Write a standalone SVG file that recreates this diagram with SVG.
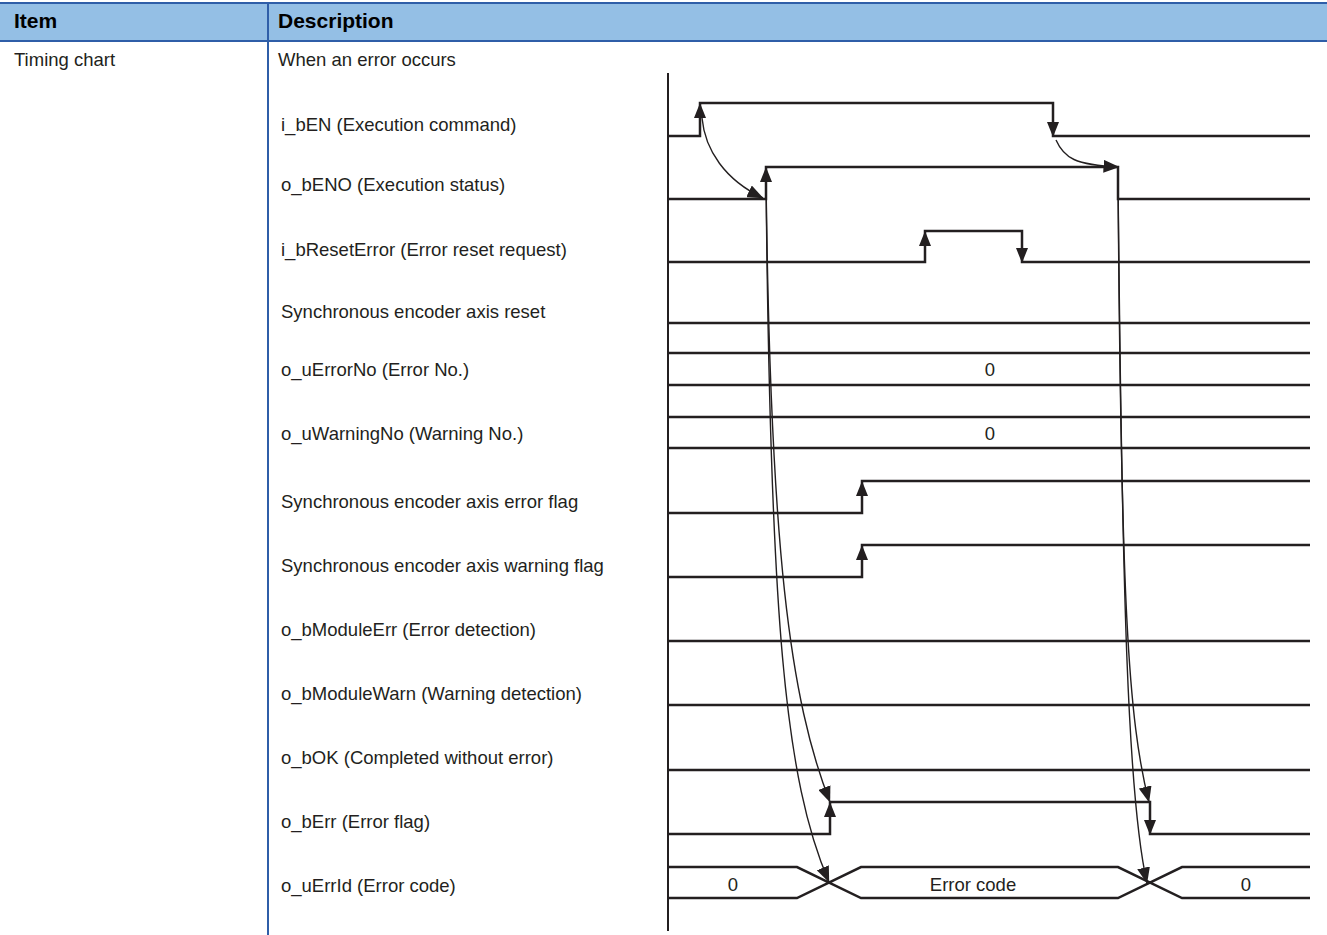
<svg xmlns="http://www.w3.org/2000/svg" xmlns:xlink="http://www.w3.org/1999/xlink" width="1327" height="935" viewBox="0 0 1327 935">
<style>
.t{font-family:"Liberation Sans",Arial,sans-serif;font-size:18.5px;fill:#231f20}
.h{font-family:"Liberation Sans",Arial,sans-serif;font-size:21px;font-weight:bold;fill:#000}
.c{text-anchor:middle}
.sig{fill:none;stroke:#231f20;stroke-width:2.5}
.cur{fill:none;stroke:#231f20;stroke-width:1.4}
.grid{stroke:#2f5ea8;stroke-width:2;fill:none}
</style>
<defs>
<path id="au" d="M0,0 L-6,15 L6,15 Z" fill="#231f20"/>
<path id="ad" d="M0,0 L-6,-15 L6,-15 Z" fill="#231f20"/>
<marker id="m" viewBox="0 0 16 13" refX="15.5" refY="6.5" markerWidth="16" markerHeight="13" markerUnits="userSpaceOnUse" orient="auto">
<path d="M0,0 L16,6.5 L0,13 Z" fill="#231f20"/>
</marker>
</defs>
<rect width="1327" height="935" fill="#fff"/>
<g id="table">
<rect x="0" y="3" width="1327" height="38" fill="#94bfe5"/>
<line x1="0" y1="3" x2="1327" y2="3" class="grid"/>
<line x1="0" y1="41" x2="1327" y2="41" class="grid"/>
<line x1="268" y1="3" x2="268" y2="935" class="grid"/>
<text x="14" y="28" class="h">Item</text>
<text x="278" y="28" class="h">Description</text>
<text x="14" y="66" class="t">Timing chart</text>
<text x="278" y="66" class="t">When an error occurs</text>
</g>
<g id="labels">
<text x="281" y="131" class="t">i_bEN (Execution command)</text>
<text x="281" y="191" class="t">o_bENO (Execution status)</text>
<text x="281" y="256" class="t">i_bResetError (Error reset request)</text>
<text x="281" y="318" class="t">Synchronous encoder axis reset</text>
<text x="281" y="376" class="t">o_uErrorNo (Error No.)</text>
<text x="281" y="440" class="t">o_uWarningNo (Warning No.)</text>
<text x="281" y="508" class="t">Synchronous encoder axis error flag</text>
<text x="281" y="572" class="t">Synchronous encoder axis warning flag</text>
<text x="281" y="636" class="t">o_bModuleErr (Error detection)</text>
<text x="281" y="700" class="t">o_bModuleWarn (Warning detection)</text>
<text x="281" y="764" class="t">o_bOK (Completed without error)</text>
<text x="281" y="828" class="t">o_bErr (Error flag)</text>
<text x="281" y="892" class="t">o_uErrId (Error code)</text>
</g>
<g id="axis">
<line x1="668" y1="73" x2="668" y2="931" stroke="#231f20" stroke-width="2"/>
</g>
<g id="signals">
<path id="sig-bEN" class="sig" d="M668,136 H700 V103 H1053 V136 H1310"/>
<path id="sig-bENO" class="sig" d="M668,199 H766 V167 H1118 V199 H1310"/>
<path id="sig-reset" class="sig" d="M668,262 H925 V231 H1022 V262 H1310"/>
<path id="sig-axisreset" class="sig" d="M668,323 H1310"/>
<g id="sig-errno">
<path class="sig" d="M668,353 H1310 M668,385 H1310"/>
<text x="990" y="376" class="t c">0</text>
</g>
<g id="sig-warnno">
<path class="sig" d="M668,417 H1310 M668,448 H1310"/>
<text x="990" y="440" class="t c">0</text>
</g>
<path id="sig-errflag" class="sig" d="M668,513 H862 V481 H1310"/>
<path id="sig-warnflag" class="sig" d="M668,577 H862 V545 H1310"/>
<path id="sig-moderr" class="sig" d="M668,641 H1310"/>
<path id="sig-modwarn" class="sig" d="M668,705 H1310"/>
<path id="sig-ok" class="sig" d="M668,770 H1310"/>
<path id="sig-berr" class="sig" d="M668,834 H830 V802 H1150 V834 H1310"/>
<g id="sig-errid">
<path class="sig" stroke-width="2.2" d="M668,867 H797 L861,898 H1118 L1182,867 H1310 M668,898 H797 L861,867 H1118 L1182,898 H1310"/>
<text x="733" y="891" class="t c">0</text>
<text x="973" y="891" class="t c">Error code</text>
<text x="1246" y="891" class="t c">0</text>
</g>
</g>
<g id="edge-arrows">
<use xlink:href="#au" x="700" y="103"/>
<use xlink:href="#au" x="766" y="167"/>
<use xlink:href="#ad" x="1053" y="137"/>
<use xlink:href="#au" x="925" y="231"/>
<use xlink:href="#ad" x="1022" y="263"/>
<use xlink:href="#au" x="862" y="481"/>
<use xlink:href="#au" x="862" y="545"/>
<use xlink:href="#au" x="830" y="802"/>
<use xlink:href="#ad" x="1150" y="835"/>
</g>
<g id="connectors">
<path class="cur" marker-end="url(#m)" d="M702,118 C705,150 725,180 763,198"/>
<path class="cur" marker-end="url(#m)" d="M1056,140 C1064,158 1075,165 1119,167"/>
<path class="cur" marker-end="url(#m)" d="M766,175 C770,620 785,780 829,882"/>
<path class="cur" marker-end="url(#m)" d="M766,175 C770,550 790,700 830,802"/>
<path class="cur" marker-end="url(#m)" d="M1118,175 C1122,600 1128,800 1147,883"/>
<path class="cur" marker-end="url(#m)" d="M1118,175 C1121,600 1128,720 1149,802"/>
</g>
</svg>
